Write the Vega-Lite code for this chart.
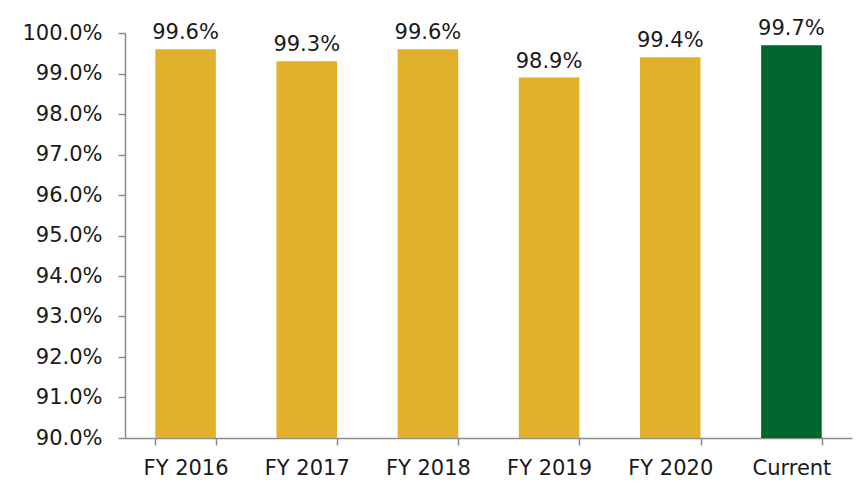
{
  "$schema": "https://vega.github.io/schema/vega-lite/v6.json",
  "width": 727,
  "height": 405,
  "autosize": "none",
  "padding": {"left": 125, "top": 33, "right": 5, "bottom": 48},
  "background": "white",
  "config": {"view": {"stroke": null}, "font": "DejaVu Sans"},
  "data": {"values": [
    {"year": "FY 2016", "value": 0.996, "label": "99.6%", "type": "past"},
    {"year": "FY 2017", "value": 0.993, "label": "99.3%", "type": "past"},
    {"year": "FY 2018", "value": 0.996, "label": "99.6%", "type": "past"},
    {"year": "FY 2019", "value": 0.989, "label": "98.9%", "type": "past"},
    {"year": "FY 2020", "value": 0.994, "label": "99.4%", "type": "past"},
    {"year": "Current", "value": 0.997, "label": "99.7%", "type": "current"}
  ]},
  "encoding": {
    "x": {"field": "year", "type": "nominal", "sort": null,
      "scale": {"paddingInner": 0.5, "paddingOuter": 0.25},
      "axis": {"title": null, "labelAngle": 0, "labelFontSize": 21, "labelColor": "#1a1a1a",
        "domainColor": "#8c8c8c", "domainWidth": 1.5, "tickColor": "#8c8c8c", "tickWidth": 1.5,
        "tickSize": 7, "tickBand": "extent", "labelPadding": 12, "labelFont": "DejaVu Sans", "labelOverlap": false}},
    "y": {"field": "value", "type": "quantitative",
      "scale": {"domain": [0.9, 1.0], "zero": false, "nice": false},
      "axis": {"title": null, "format": ".1%", "values": [0.9,0.91,0.92,0.93,0.94,0.95,0.96,0.97,0.98,0.99,1.0],
        "grid": false, "labelFontSize": 21, "labelColor": "#1a1a1a", "labelOverlap": false,
        "domainColor": "#8c8c8c", "domainWidth": 1.5, "tickColor": "#8c8c8c", "tickWidth": 1.5,
        "tickSize": 7, "labelPadding": 16, "labelFont": "DejaVu Sans"}}
  },
  "layer": [
    {"mark": {"type": "bar"},
     "encoding": {
       "y2": {"datum": 0.9},
       "color": {"field": "type", "type": "nominal",
         "scale": {"domain": ["past", "current"], "range": ["#E2B12B", "#006630"]},
         "legend": null}
     }},
    {"mark": {"type": "text", "baseline": "bottom", "dy": -6, "fontSize": 21, "color": "#1a1a1a", "font": "DejaVu Sans"},
     "encoding": {"text": {"field": "label"}}}
  ]
}
